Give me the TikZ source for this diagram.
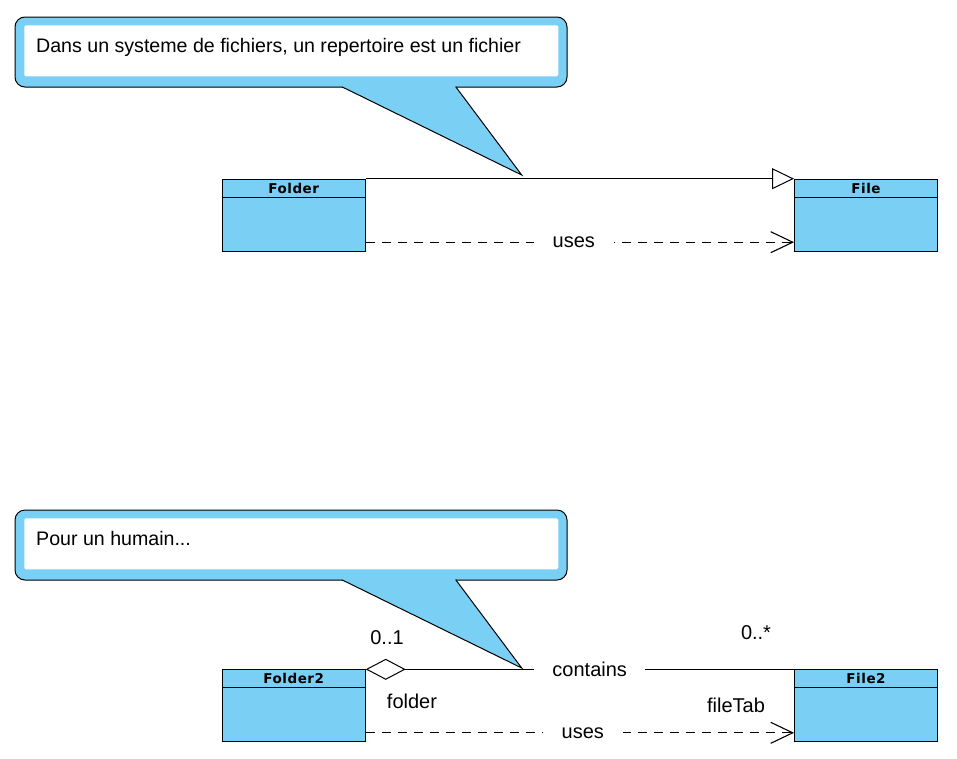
\documentclass[tikz,border=0pt]{standalone}
\usepackage{fontspec}
\setmainfont{Liberation Sans}
\newfontfamily\titlefont{DejaVu Sans}[LetterSpace=4]
\usepackage{tikz}
\usetikzlibrary{arrows.meta, positioning}
\definecolor{umlblue}{RGB}{122,207,245}
\tikzset{
    classnode/.style = {draw, rectangle, fill=umlblue, line width=1pt, inner sep = 0em,
      minimum width=143pt, minimum height=72pt},
    headnode/.style = {draw, rectangle, fill=umlblue, line width=1pt, inner sep = 0em,
      minimum width=143pt, minimum height=18pt, font=\titlefont\bfseries\fontsize{13.5}{14}\selectfont},
    calloutnode/.style = {draw, rectangle, fill=umlblue, line width=1pt, rounded corners=10pt,
      minimum width=552pt, minimum height=70pt, inner sep = 0em},
    innernode/.style = {draw=none, rectangle, fill=white, rounded corners=1.5pt,
      minimum width=534pt, minimum height=51pt, inner sep = 0em},
    notetextnode/.style = {draw=none, fill=none, inner sep = 0em, font=\fontsize{19.6}{22}\selectfont},
    labelnode/.style = {draw=none, fill=none, inner sep = 0em, font=\fontsize{20}{24}\selectfont},
    gapnode/.style = {labelnode, fill=white, inner xsep=19pt, inner ysep=5pt},
    tailline/.style = {black, line width=1pt, line join=miter},
    generalize/.style = {black, line width=1pt, -{Triangle[open, length=22pt, width=21pt, fill=white]}},
    usesline/.style = {black, line width=1.1pt, dash pattern=on 9.5pt off 6.5pt,
      -{Straight Barb[length=22pt, width=21pt, line width=1.1pt]}},
    aggregate/.style = {black, line width=1pt, {Diamond[open, length=40pt, width=21pt, fill=white]}-}
}

\begin{document}
\begin{tikzpicture}[x=1pt, y=-1pt]
    \useasboundingbox [fill=white] (0,0) rectangle (957,758);

    % first note
    \node [name=note1, calloutnode] at (291,52) {};
    \node [name=note1in, innernode] at (291.3,50.8) {};
    \fill [umlblue] (341.7,83) -- (341.7,86.7) -- (521.7,175) -- (455.7,86.7) -- (455.7,83) -- cycle;
    \draw [tailline] (341.7,86.7) -- (521.7,175) -- (455.7,86.7);
    \node [name=text1, notetextnode, anchor=base west] at (36,52.7)
        {Dans un systeme de fichiers, un repertoire est un fichier};

    % first pair of classes
    \node [name=folder, classnode] at (293.7,215.2) {};
    \node [name=folderhead, headnode, below=0pt of folder.north] {Folder};
    \node [name=file, classnode] at (866,215.2) {};
    \node [name=filehead, headnode, below=0pt of file.north] {File};

    \draw [generalize] (folder.north east) -- (file.north west);
    \draw [usesline] ([yshift=-27pt]folder.east) -- node[name=uses1, gapnode, pos=0.486] {uses}
        ([yshift=-27pt]file.west);

    % second note
    \node [name=note2, calloutnode] at (291,545) {};
    \node [name=note2in, innernode] at (291.3,543.8) {};
    \fill [umlblue] (341.7,576) -- (341.7,579.7) -- (521.7,668) -- (455.7,579.7) -- (455.7,576) -- cycle;
    \draw [tailline] (341.7,579.7) -- (521.7,668) -- (455.7,579.7);
    \node [name=text2, notetextnode, anchor=base west] at (36,545.7) {Pour un humain...};

    % second pair of classes
    \node [name=folder2, classnode] at (293.7,705.8) {};
    \node [name=folder2head, headnode, below=0pt of folder2.north] {Folder2};
    \node [name=file2, classnode] at (866,705.8) {};
    \node [name=file2head, headnode, below=0pt of file2.north] {File2};

    \draw [aggregate] (folder2.north east) -- node[name=contains, gapnode, pos=0.523, inner xsep=18pt] {contains}
        (file2.north west);
    \draw [usesline] ([yshift=-27pt]folder2.east) -- node[name=uses2, gapnode, pos=0.507] {uses}
        ([yshift=-27pt]file2.west);

    \node [name=mult1, labelnode] at (387,638) {0..1};
    \node [name=role1, labelnode] at (412,701) {folder};
    \node [name=mult2, labelnode] at (756,633) {0..*};
    \node [name=role2, labelnode] at (736,705) {fileTab};
\end{tikzpicture}
\end{document}
